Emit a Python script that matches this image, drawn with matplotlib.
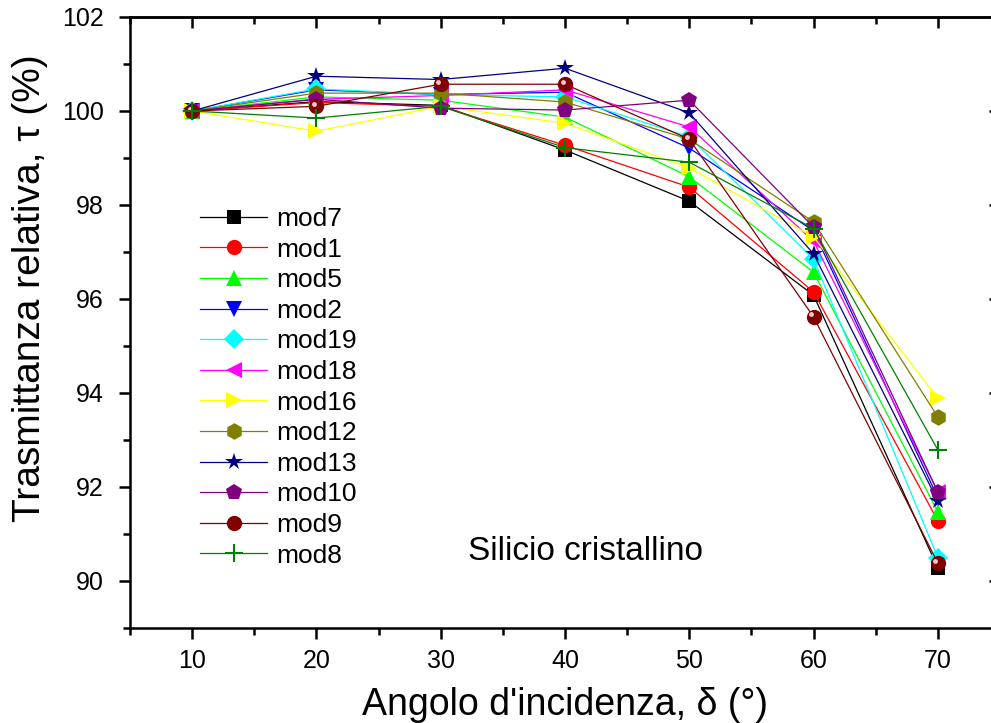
import matplotlib
matplotlib.use("Agg")
import matplotlib.pyplot as plt
from matplotlib.ticker import MultipleLocator
from matplotlib.transforms import offset_copy

plt.rcParams['font.family'] = ['Liberation Sans', 'DejaVu Sans']

angles = [10, 20, 30, 40, 50, 60, 70]
labels = ["mod7", "mod1", "mod5", "mod2", "mod19", "mod18", "mod16",
          "mod12", "mod13", "mod10", "mod9", "mod8"]

mod7 = [100, 100.20, 100.12, 99.17, 98.08, 96.08, 90.28]
mod1 = [100, 100.18, 100.10, 99.27, 98.38, 96.15, 91.28]
mod5 = [100, 100.30, 100.23, 99.87, 98.60, 96.57, 91.47]
mod2 = [100, 100.45, 100.35, 100.40, 99.21, 97.45, 91.77]
mod19 = [100, 100.47, 100.35, 100.30, 99.45, 96.85, 90.50]
mod18 = [100, 100.25, 100.33, 100.45, 99.66, 97.23, 91.90]
mod16 = [100, 99.57, 100.10, 99.74, 98.79, 97.32, 93.89]
mod12 = [100, 100.38, 100.38, 100.19, 99.40, 97.64, 93.49]
mod13 = [100, 100.74, 100.67, 100.91, 99.96, 96.96, 91.70]
mod10 = [100, 100.25, 100.06, 100.02, 100.23, 97.53, 91.89]
mod9 = [100, 100.10, 100.57, 100.57, 99.40, 95.62, 90.38]
mod8 = [100, 99.85, 100.10, 99.22, 98.91, 97.50, 92.79]

series = [mod7, mod1, mod5, mod2, mod19, mod18, mod16, mod12, mod13, mod10, mod9, mod8]
colors = ["#000000", "#FF0000", "#00FF00", "#0000FF", "#00FFFF", "#FF00FF",
          "#FFFF00", "#808000", "#000080", "#800080", "#800000", "#008000"]
markers = ["s", "o", "^", "v", "D", "<", ">", "h", "*", "p", "o", "+"]
msizes = [10, 11, 12, 12, 10, 12, 12, 12, 13, 12, 11, 13]

fig = plt.figure(figsize=(9.91, 7.23), dpi=100)
ax = fig.add_axes([130 / 991, 1 - 628 / 723, 870 / 991, 611 / 723])

for y, c, m, ms, lab in zip(series, colors, markers, msizes, labels):
    mew = 1.5 if m == "+" else 0
    ax.plot(angles, y, color=c, lw=0.9, marker=m, markersize=ms,
            markerfacecolor=c, markeredgecolor=c, markeredgewidth=mew, label=lab)
    if lab == "mod9":
        tr = offset_copy(ax.transData, fig=fig, x=-2.5, y=2.5, units='dots')
        ax.plot(angles, y, ls='none', marker='o', markersize=3.5,
                markerfacecolor='#f0c8c8', markeredgewidth=0, transform=tr)

ax.set_xlim(5, 75)
ax.set_ylim(89, 102)
ax.xaxis.set_major_locator(MultipleLocator(10))
ax.xaxis.set_minor_locator(MultipleLocator(5))
ax.yaxis.set_major_locator(MultipleLocator(2))
ax.yaxis.set_minor_locator(MultipleLocator(1))

for s in ax.spines.values():
    s.set_linewidth(1.8)

ax.tick_params(axis='both', which='major', length=8, width=1.8, labelsize=18, direction='out')
ax.tick_params(axis='both', which='minor', length=5, width=1.8, direction='out')
ax.tick_params(axis='x', which='both', pad=7, top=False)
ax.tick_params(axis='y', which='both', pad=11, right=False)

secx = ax.secondary_xaxis('top')
secx.xaxis.set_major_locator(MultipleLocator(10))
secx.xaxis.set_minor_locator(MultipleLocator(5))
secx.tick_params(which='major', direction='in', length=8, width=1.8, labeltop=False)
secx.tick_params(which='minor', direction='in', length=5, width=1.8)
secx.spines['top'].set_linewidth(1.8)
secy = ax.secondary_yaxis('right')
secy.yaxis.set_major_locator(MultipleLocator(2))
secy.yaxis.set_minor_locator(MultipleLocator(1))
secy.tick_params(which='major', direction='in', length=8, width=1.8, labelright=False)
secy.tick_params(which='minor', direction='in', length=5, width=1.8)
secy.spines['right'].set_linewidth(1.8)

ax.set_xlabel("Angolo d'incidenza, δ (°)", fontsize=27, labelpad=10)
ax.set_ylabel("Trasmittanza relativa, τ (%)", fontsize=28)
ax.yaxis.set_label_coords(-0.094, 0.556)

ax.text(0.524, 0.126, "Silicio cristallino", transform=ax.transAxes,
        fontsize=24, ha='center', va='center')

ax.legend(loc='upper left', bbox_to_anchor=(0.0805, 0.689), frameon=False,
          fontsize=19, handlelength=2.55, handletextpad=0.34, labelspacing=0.25,
          borderaxespad=0, borderpad=0, numpoints=1)

fig.savefig("out.png", dpi=100)
